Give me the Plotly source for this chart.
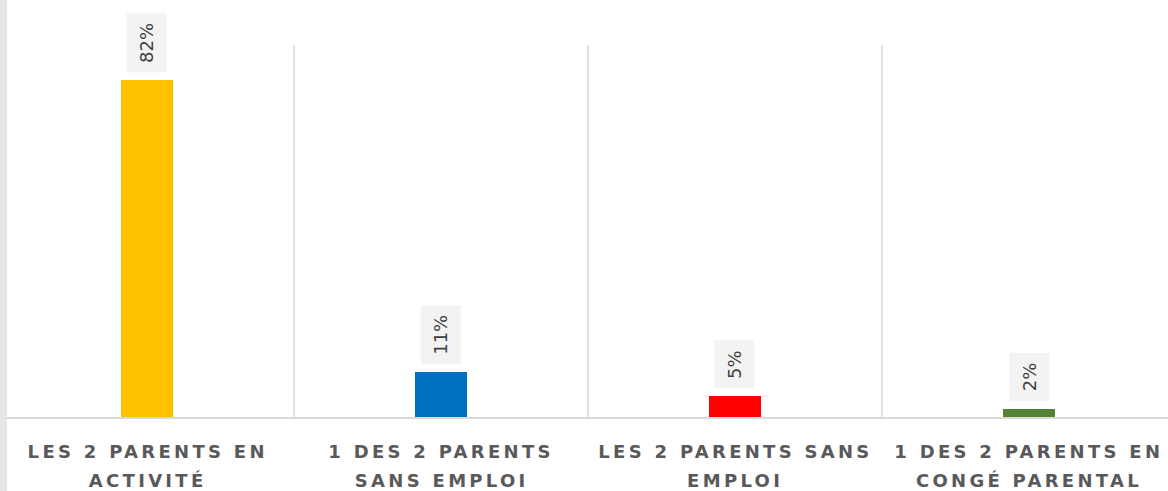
import plotly.graph_objects as go

categories = [
    "LES 2 PARENTS EN\nACTIVITÉ",
    "1 DES 2 PARENTS\nSANS EMPLOI",
    "LES 2 PARENTS SANS\nEMPLOI",
    "1 DES 2 PARENTS EN\nCONGÉ PARENTAL",
]
values = [82, 11, 5, 2]
value_labels = ["82%", "11%", "5%", "2%"]
bar_colors = ["#FFC000", "#0070C0", "#FF0000", "#548235"]

W, H = 1168, 491
TOP, BOTTOM = 45, 74
STRIP = 7

fig = go.Figure(go.Bar(
    x=list(range(len(categories))),
    y=values,
    marker=dict(color=bar_colors, line=dict(width=0)),
    width=0.18,
    hoverinfo="skip",
))

# étiquettes de valeur (verticales, fond gris clair)
for i, (v, lab) in enumerate(zip(values, value_labels)):
    fig.add_annotation(
        x=i, y=v, text=lab, textangle=-90, showarrow=False,
        yanchor="bottom", yshift=7,
        bgcolor="#f3f3f3", borderpad=9,
        font=dict(family="DejaVu Sans", size=18, color="#404040"),
    )

# libellés des catégories sur deux lignes
for i, cat in enumerate(categories):
    for j, line in enumerate(cat.split("\n")):
        fig.add_annotation(
            x=i, xref="x", y=0, yref="paper", text=line, showarrow=False,
            yanchor="middle", yshift=-34 - 29 * j,
            font=dict(family="DejaVu Sans", size=18, color="#595959", weight="bold"),
        )

# bande grise à gauche
plot_h = H - TOP - BOTTOM
fig.add_shape(
    type="rect", xref="paper", yref="paper",
    x0=0, x1=STRIP / W, y0=-BOTTOM / plot_h, y1=1 + TOP / plot_h,
    fillcolor="#e5e4e8", line=dict(width=0), layer="above",
)

n = len(categories)
fig.update_layout(
    width=W, height=H,
    margin=dict(l=0, r=0, t=TOP, b=BOTTOM),
    paper_bgcolor="white", plot_bgcolor="white",
    showlegend=False,
    bargap=0,
    xaxis=dict(
        range=[-0.5, n - 0.5 - 8 / 294], tickmode="array",
        tickvals=list(range(n)), showticklabels=False, ticks="",
        showgrid=False, zeroline=False,
        showline=True, linecolor="#d9d9d9", linewidth=2,
    ),
    yaxis=dict(range=[0, 90.5], visible=False, showgrid=False, zeroline=False),
)

# séparateurs verticaux entre catégories
for k in range(1, n):
    fig.add_shape(
        type="line", xref="x", yref="paper", x0=k - 0.5, x1=k - 0.5, y0=0, y1=1,
        line=dict(color="#d9d9d9", width=1.5), layer="below",
    )

post = """
document.body.style.margin = '0';
document.querySelectorAll('g.annotation text.annotation-text').forEach(function(t){
  if (t.textContent.indexOf('%') < 0) { t.style.letterSpacing = '3.3px'; }
});
"""

fig.write_html("out.html", post_script=post, config={"displayModeBar": False})
